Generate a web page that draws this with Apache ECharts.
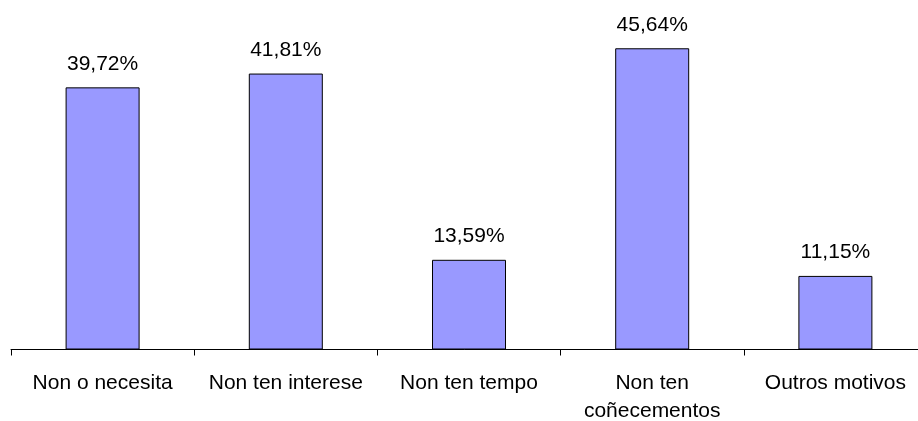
<!DOCTYPE html>
<html><head><meta charset="utf-8">
<script src="https://cdn.jsdelivr.net/npm/echarts@6/dist/echarts.min.js"></script>
<style>html,body{margin:0;padding:0;background:#fff}#c{width:918px;height:421px}</style>
</head><body><div id="c"></div>
<script>
const categories = ['Non o necesita', 'Non ten interese', 'Non ten tempo', 'Non ten\ncoñecementos', 'Outros motivos'];
const values = [39.72, 41.81, 13.59, 45.64, 11.15];
const valueLabels = ['39,72%', '41,81%', '13,59%', '45,64%', '11,15%'];

const chart = echarts.init(document.getElementById('c'), null, {renderer: 'canvas'});
chart.setOption({
  animation: false,
  backgroundColor: '#fff',
  textStyle: {fontFamily: 'Liberation Sans, Arial, sans-serif'},
  grid: {left: 11, width: 916, top: 19.5, bottom: 71.5, containLabel: false, outerBoundsMode: 'none'},
  xAxis: {
    type: 'category',
    data: categories,
    axisLine: {lineStyle: {color: '#000', width: 1}},
    axisTick: {show: true, length: 6, lineStyle: {color: '#000'}},
    axisLabel: {color: '#000', fontSize: 21, margin: 20, lineHeight: 28, interval: 0, fontFamily: 'Liberation Sans, Arial, sans-serif'}
  },
  yAxis: {
    type: 'value', min: 0, max: 50,
    show: false,
    splitLine: {show: false}
  },
  series: [{
    type: 'bar',
    data: values,
    barWidth: 74,
    itemStyle: {color: '#9999FF', borderColor: '#000', borderWidth: 1},
    label: {
      show: true, position: 'top', distance: 13,
      color: '#000', fontSize: 21, fontFamily: 'Liberation Sans, Arial, sans-serif',
      formatter: p => valueLabels[p.dataIndex]
    }
  }]
});
</script></body></html>
